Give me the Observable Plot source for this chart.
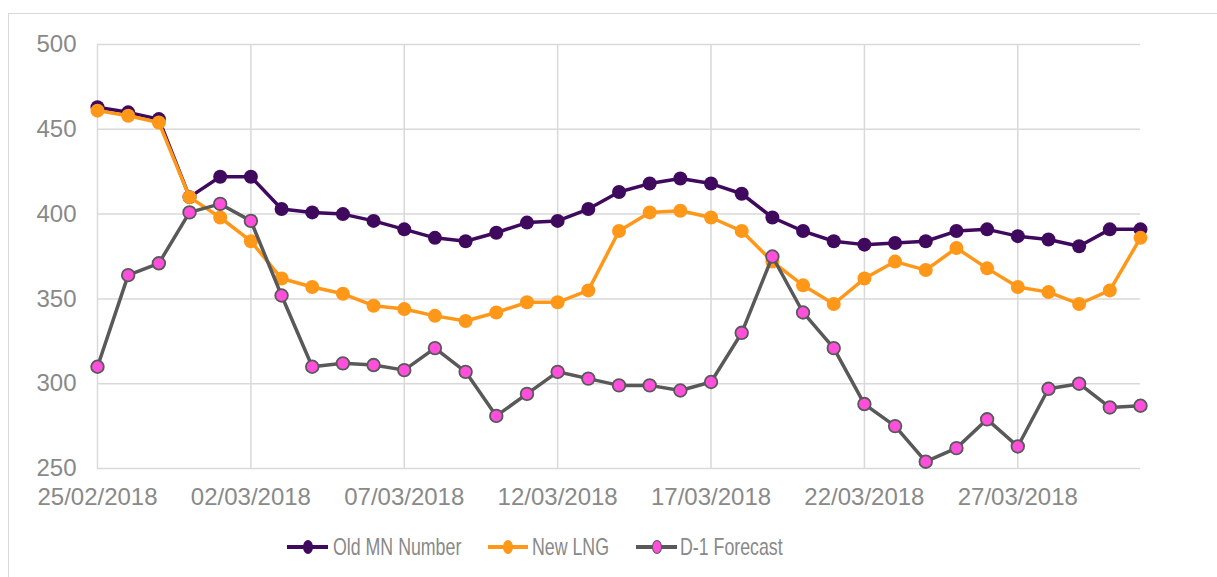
<!DOCTYPE html>
<html>
<head>
<meta charset="utf-8">
<script src="https://cdn.jsdelivr.net/npm/d3@7"></script>
<script src="https://cdn.jsdelivr.net/npm/@observablehq/plot@0.6"></script>
<style>
  body { margin: 0; background: #fff; font-family: "Liberation Sans", Arial, sans-serif; }
  #wrap { position: relative; width: 1217px; height: 577px; overflow: hidden; background: #fff; }
  #frame { position: absolute; left: 8px; top: 13px; width: 1400px; height: 800px; border: 1.5px solid #d9d9d9; box-sizing: border-box; }
  #chart { position: absolute; left: 0; top: 0; }
  .lg-item { position: absolute; top: 0; height: 577px; }
  .lg-line { position: absolute; height: 4px; top: 545px; }
  .lg-dot { position: absolute; width: 10px; height: 14px; top: 540px; border-radius: 50%; box-sizing: border-box; }
  .lg-text { position: absolute; top: 534px; font-size: 24px; line-height: 26px; color: #898989; white-space: nowrap; transform: scaleX(0.74); transform-origin: 0 50%; }
</style>
</head>
<body>
<div id="wrap">
  <div id="frame"></div>
  <div id="chart"></div>
  <div id="legend"></div>
</div>
<script>
// ---- data ----
const startDate = "2018-02-25";
const endDate = "2018-03-31";
const seriesNames = ["Old MN Number", "New LNG", "D-1 Forecast"];
const seriesColors = ["#3F0A5E", "#FF9819", "#595959"];
const oldMN = [463, 460, 456, 410, 422, 422, 403, 401, 400, 396, 391, 386, 384, 389, 395, 396, 403, 413, 418, 421, 418, 412, 398, 390, 384, 382, 383, 384, 390, 391, 387, 385, 381, 391, 391];
const newLNG = [461, 458, 454, 410, 398, 384, 362, 357, 353, 346, 344, 340, 337, 342, 348, 348, 355, 390, 401, 402, 398, 390, 372, 358, 347, 362, 372, 367, 380, 368, 357, 354, 347, 355, 386];
const d1Forecast = [310, 364, 371, 401, 406, 396, 352, 310, 312, 311, 308, 321, 307, 281, 294, 307, 303, 299, 299, 296, 301, 330, 375, 342, 321, 288, 275, 254, 262, 279, 263, 297, 300, 286, 287];
const tickLabels = ["25/02/2018", "02/03/2018", "07/03/2018", "12/03/2018", "17/03/2018", "22/03/2018", "27/03/2018"];
const yTicks = [250, 300, 350, 400, 450, 500];

// ---- build table ----
const parseISO = d3.utcParse("%Y-%m-%d");
const parseLabel = d3.utcParse("%d/%m/%Y");
const dates = d3.utcDay.range(parseISO(startDate), d3.utcDay.offset(parseISO(endDate), 1));
const tickDates = tickLabels.map(parseLabel);
const allValues = [oldMN, newLNG, d1Forecast];
const table = [];
seriesNames.forEach((s, i) => {
  allValues[i].forEach((v, j) => table.push({ series: s, date: dates[j], value: v }));
});
const bySeries = s => table.filter(d => d.series === s);

const gridColor = "#d9d9d9";
const textColor = "#898989";

const chart = Plot.plot({
  width: 1217,
  height: 520,
  marginLeft: 97,
  marginRight: 77,
  marginTop: 44,
  marginBottom: 52,
  style: { fontFamily: "Liberation Sans, Arial, sans-serif", fontSize: "24px", color: textColor, background: "transparent", overflow: "visible" },
  x: { type: "utc", domain: [dates[0], dates[dates.length - 1]] },
  y: { domain: [250, 500] },
  marks: [
    Plot.gridX(tickDates, { stroke: gridColor, strokeOpacity: 1, strokeWidth: 1.5 }),
    Plot.gridY(yTicks, { stroke: gridColor, strokeOpacity: 1, strokeWidth: 1.5 }),
    Plot.axisX(tickDates, { tickSize: 0, tickPadding: 19, tickFormat: d3.utcFormat("%d/%m/%Y"), label: null, fontSize: 24, fill: textColor }),
    Plot.axisY(yTicks, { tickSize: 0, tickPadding: 21, label: null, fontSize: 24, fill: textColor }),
    Plot.line(bySeries(seriesNames[0]), { x: "date", y: "value", stroke: seriesColors[0], strokeWidth: 3.5 }),
    Plot.dot(bySeries(seriesNames[0]), { x: "date", y: "value", r: 7, fill: seriesColors[0], stroke: "none" }),
    Plot.line(bySeries(seriesNames[1]), { x: "date", y: "value", stroke: seriesColors[1], strokeWidth: 3.5 }),
    Plot.dot(bySeries(seriesNames[1]), { x: "date", y: "value", r: 7, fill: seriesColors[1], stroke: "none" }),
    Plot.line(bySeries(seriesNames[2]), { x: "date", y: "value", stroke: seriesColors[2], strokeWidth: 3.5 }),
    Plot.dot(bySeries(seriesNames[2]), { x: "date", y: "value", r: 6.3, fill: "#FF4FDB", stroke: "#595959", strokeWidth: 1.8 })
  ]
});
document.getElementById("chart").appendChild(chart);

// ---- legend ----
const legendItems = [
  { name: seriesNames[0], color: seriesColors[0], dotFill: seriesColors[0], dotStroke: "none", x0: 287, x1: 328, dx: 308, tx: 333 },
  { name: seriesNames[1], color: seriesColors[1], dotFill: seriesColors[1], dotStroke: "none", x0: 488, x1: 528, dx: 508, tx: 532 },
  { name: seriesNames[2], color: seriesColors[2], dotFill: "#FF4FDB", dotStroke: "#595959", x0: 636, x1: 677, dx: 657, tx: 680 }
];
const legend = document.getElementById("legend");
legendItems.forEach(it => {
  const line = document.createElement("div");
  line.className = "lg-line";
  line.style.left = it.x0 + "px";
  line.style.width = (it.x1 - it.x0) + "px";
  line.style.background = it.color;
  legend.appendChild(line);
  const dot = document.createElement("div");
  dot.className = "lg-dot";
  dot.style.left = (it.dx - 5) + "px";
  dot.style.background = it.dotFill;
  if (it.dotStroke !== "none") dot.style.border = "1.5px solid " + it.dotStroke;
  legend.appendChild(dot);
  const t = document.createElement("div");
  t.className = "lg-text";
  t.style.left = it.tx + "px";
  t.textContent = it.name;
  legend.appendChild(t);
});
</script>
</body>
</html>
